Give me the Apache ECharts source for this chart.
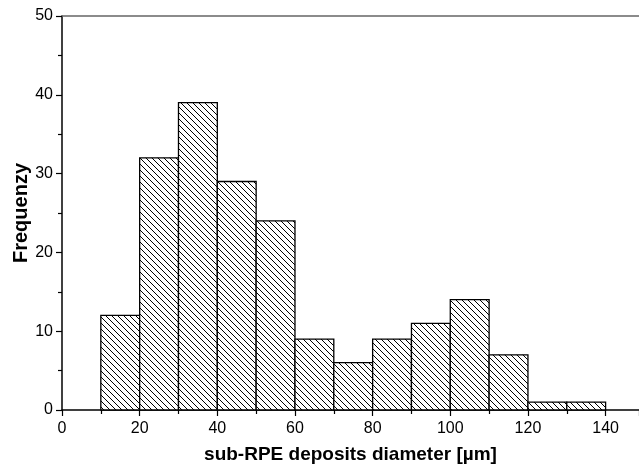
<!DOCTYPE html>
<html>
<head>
<meta charset="utf-8">
<script src="https://cdn.jsdelivr.net/npm/echarts@6/dist/echarts.min.js"></script>
<style>
  html, body { margin: 0; padding: 0; background: #fff; }
  #chart { width: 639px; height: 468px; }
</style>
</head>
<body>
<div id="chart"></div>
<script>
// histogram bins (left edge, right edge) and counts
var binStart = [10, 20, 30, 40, 50, 60, 70, 80, 90, 100, 110, 120, 130];
var binEnd   = [20, 30, 40, 50, 60, 70, 80, 90, 100, 110, 120, 130, 140];
var counts   = [12, 32, 39, 29, 24, 9, 6, 9, 11, 14, 7, 1, 1];

var xTitle = 'sub-RPE deposits diameter [µm]';
var yTitle = 'Frequenzy';

// diagonal hatch tile ("\\\\")
function makeHatch() {
  var s = 6;
  var c = document.createElement('canvas');
  c.width = s; c.height = s;
  var ctx = c.getContext('2d');
  ctx.fillStyle = '#fff';
  ctx.fillRect(0, 0, s, s);
  ctx.strokeStyle = '#000';
  ctx.lineWidth = 1;
  ctx.beginPath();
  ctx.moveTo(-1, -1); ctx.lineTo(s + 1, s + 1);
  ctx.moveTo(-1, s - 1); ctx.lineTo(1, s + 1);
  ctx.moveTo(s - 1, -1); ctx.lineTo(s + 1, 1);
  ctx.stroke();
  return c;
}
var hatch = { image: makeHatch(), repeat: 'repeat' };

var data = binStart.map(function (v, i) { return [v, binEnd[i], counts[i]]; });

var chart = echarts.init(document.getElementById('chart'));
var font = 'Liberation Sans, Arial, sans-serif';

chart.setOption({
  animation: false,
  grid: { left: 62, right: 0, top: 16, bottom: 58, outerBoundsMode: 'none' },
  xAxis: [{
    type: 'value', min: 0, max: 148.6, interval: 20,
    name: xTitle, nameLocation: 'middle', nameGap: 35, nameMoveOverlap: false,
    nameTextStyle: { fontFamily: font, fontSize: 19, fontWeight: 'bold', color: '#000' },
    axisLine: { show: true, lineStyle: { color: '#000', width: 1.5 } },
    axisTick: { show: true, length: 6, lineStyle: { color: '#000', width: 1.2 } },
    minorTick: { show: true, splitNumber: 2, length: 4, lineStyle: { color: '#000', width: 1.2 } },
    axisLabel: { fontFamily: font, fontSize: 16, color: '#000', margin: 11, showMaxLabel: false },
    splitLine: { show: false }
  }, {
    type: 'value', position: 'top', min: 0, max: 148.6,
    axisLine: { show: true, lineStyle: { color: '#666', width: 1.5 } },
    axisTick: { show: false }, axisLabel: { show: false }, splitLine: { show: false }
  }],
  yAxis: {
    type: 'value', min: 0, max: 50, interval: 10,
    name: yTitle, nameLocation: 'middle', nameGap: 31, nameMoveOverlap: false,
    nameTextStyle: { fontFamily: font, fontSize: 20, fontWeight: 'bold', color: '#000' },
    axisLine: { show: true, lineStyle: { color: '#000', width: 1.5 } },
    axisTick: { show: true, length: 6, lineStyle: { color: '#000', width: 1.2 } },
    minorTick: { show: true, splitNumber: 2, length: 4, lineStyle: { color: '#000', width: 1.2 } },
    axisLabel: { fontFamily: font, fontSize: 16, color: '#000', margin: 9 },
    splitLine: { show: false }
  },
  series: [{
    type: 'custom',
    xAxisIndex: 0,
    data: data,
    renderItem: function (params, api) {
      var p0 = api.coord([api.value(0), 0]);
      var p1 = api.coord([api.value(1), api.value(2)]);
      return {
        type: 'rect',
        shape: { x: p0[0], y: p1[1], width: p1[0] - p0[0], height: p0[1] - p1[1] },
        style: { fill: hatch, stroke: '#000', lineWidth: 1.3 }
      };
    }
  }]
});
</script>
</body>
</html>
